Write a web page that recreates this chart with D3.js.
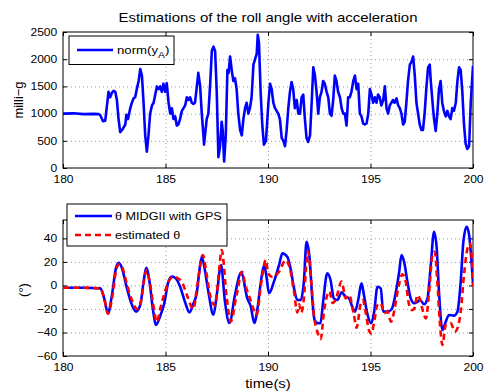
<!DOCTYPE html>
<html><head><meta charset="utf-8">
<script src="https://cdn.jsdelivr.net/npm/d3@7"></script>
<style>
html,body{margin:0;padding:0;background:#fff;}
text{font-family:"Liberation Sans",Arial,Helvetica,sans-serif;fill:#000;}
</style></head>
<body>
<svg id="c" width="484" height="392"></svg>
<script>
// ---------- DATA ----------
const title = "Estimations of the roll angle with acceleration";
const xTicks = [180, 185, 190, 195, 200];
const accelTicks = [0, 500, 1000, 1500, 2000, 2500];
const angleTicks = [-60, -40, -20, 0, 20, 40];

// norm(y_A) in milli-g
const accelTime = [
 180, 180.5, 181.0, 181.5, 181.74, 181.82, 181.95, 182.06, 182.22, 182.3, 182.38, 182.47, 182.55, 182.63, 182.71, 182.79, 182.92,
 183.04, 183.09, 183.17, 183.28, 183.36, 183.44, 183.52, 183.6, 183.69, 183.77, 183.85, 183.93, 184.01, 184.09, 184.17, 184.25,
 184.34, 184.42, 184.5, 184.58, 184.66, 184.74, 184.82, 184.9, 184.98, 185.06, 185.15, 185.23, 185.31, 185.39, 185.47, 185.55,
 185.63, 185.71, 185.8, 185.96, 186.04, 186.12, 186.2, 186.28, 186.36, 186.44, 186.53, 186.6, 186.69, 186.77, 186.85, 186.88,
 187.01, 187.09, 187.18, 187.26, 187.34, 187.42, 187.5, 187.58, 187.66, 187.74, 187.79, 187.86, 187.94, 188.02, 188.08, 188.15,
 188.23, 188.31, 188.39, 188.47, 188.55, 188.64, 188.72, 188.8, 188.88, 188.96, 189.04, 189.12, 189.2, 189.29, 189.37, 189.45,
 189.5, 189.56, 189.64, 189.72, 189.8, 189.9, 190.02, 190.1, 190.18, 190.26, 190.34, 190.42, 190.5, 190.58, 190.67, 190.75,
 190.83, 190.91, 190.99, 191.07, 191.15, 191.23, 191.31, 191.4, 191.48, 191.56, 191.64, 191.72, 191.8, 191.88, 191.96, 192.05,
 192.13, 192.21, 192.29, 192.37, 192.45, 192.53, 192.61, 192.69, 192.77, 192.86, 192.94, 193.02, 193.1, 193.18, 193.26, 193.34,
 193.42, 193.51, 193.59, 193.67, 193.75, 193.83, 193.91, 193.99, 194.07, 194.16, 194.24, 194.32, 194.4, 194.48, 194.56, 194.64,
 194.72, 194.81, 194.89, 194.97, 195.05, 195.13, 195.21, 195.29, 195.37, 195.45, 195.53, 195.62, 195.7, 195.78, 195.86, 195.94,
 196.02, 196.1, 196.18, 196.27, 196.35, 196.43, 196.51, 196.59, 196.67, 196.75, 196.83, 196.92, 197.0, 197.08, 197.16, 197.24,
 197.32, 197.4, 197.48, 197.56, 197.64, 197.73, 197.81, 197.89, 197.94, 198.05, 198.1, 198.18, 198.26, 198.34, 198.42, 198.5,
 198.58, 198.67, 198.75, 198.83, 198.91, 198.99, 199.07, 199.16, 199.24, 199.32, 199.4, 199.48, 199.56, 199.64, 199.72, 199.81,
 199.89, 200
];
const accelNorm = [
 1000, 1005, 990, 995, 990, 970, 860, 870, 1400, 1300, 1380, 1420, 1400, 1250, 900, 660, 720,
 800, 980, 900, 1100, 1200, 1280, 1300, 1450, 1600, 1820, 1700, 1200, 600, 300, 600, 1000,
 1150, 1200, 1350, 1500, 1450, 1500, 1400, 1550, 1400, 1560, 1200, 1000, 1100, 900, 950, 780,
 800, 900, 1050, 1150, 1300, 1250, 1300, 1200, 1180, 1200, 1500, 1750, 1500, 1000, 600, 430,
 900, 1000, 1550, 2150, 2230, 2150, 1400, 200, 400, 850, 700, 120, 600, 1800, 1750, 2050,
 1800, 1600, 1650, 1450, 1000, 700, 600, 900, 1100, 1200, 1000, 1100, 1300, 1900, 2000, 2100,
 2450, 2300, 1400, 800, 430, 500, 1200, 1550, 1450, 1200, 1100, 1050, 1000, 900, 550, 500,
 400, 700, 1100, 1400, 1580, 1450, 1100, 1250, 1000, 1000, 1300, 1350, 900, 550, 480, 600,
 1200, 1850, 1700, 1400, 1000, 1300, 1400, 1600, 1550, 1400, 1300, 1000, 960, 1250, 1700, 1600,
 1400, 1300, 1100, 1000, 1000, 780, 1300, 1300, 1400, 1600, 1700, 1450, 1550, 1000, 950, 820,
 800, 820, 1000, 1450, 1350, 1200, 1300, 1200, 1350, 1300, 1150, 1250, 1500, 1100, 1000, 1150,
 1200, 1250, 1200, 1280, 1150, 1100, 1000, 800, 850, 1200, 1600, 1900, 1950, 2050, 1700, 1200,
 1000, 800, 700, 700, 1000, 1500, 1850, 1900, 1600, 1100, 900, 680, 1000, 1450, 1600, 1200,
 1050, 950, 1050, 950, 900, 1100, 1050, 1200, 1600, 1850, 1800, 1400, 800, 450, 350, 400,
 1200, 1880
];

// theta from MIDGII with GPS (deg)
const gpsTime = [
 180, 181, 181.82, 182.01, 182.19, 182.39, 182.58, 182.71, 182.87, 183.08, 183.33, 183.56, 183.77, 183.93,
 184.06, 184.22, 184.38, 184.54, 184.74, 184.93, 185.14, 185.31, 185.5, 185.71, 185.95, 186.17, 186.35,
 186.53, 186.65, 186.77, 186.9, 187.09, 187.34, 187.5, 187.71, 187.9, 188.12, 188.39, 188.69, 188.99,
 189.16, 189.33, 189.5, 189.61, 189.82, 189.92, 190.05, 190.29, 190.54, 190.7, 190.94, 191.1, 191.27,
 191.43, 191.6, 191.75, 191.88, 192.03, 192.16, 192.27, 192.45, 192.56, 192.69, 192.89, 193.05, 193.21,
 193.38, 193.59, 193.79, 193.95, 194.11, 194.24, 194.4, 194.56, 194.68, 194.84, 195.03, 195.18, 195.34,
 195.5, 195.62, 195.83, 196.04, 196.24, 196.4, 196.51, 196.64, 196.8, 196.96, 197.13, 197.29, 197.42,
 197.61, 197.78, 197.94, 198.1, 198.23, 198.34, 198.51, 198.67, 198.83, 199.07, 199.24, 199.4, 199.53,
 199.69, 199.81, 199.94, 200
];
const thetaGPS = [
 -2, -2, -2.5, -11, -23.7, -8, 14.5, 19.3, 15, 0.3, -15, -22.3, -16.6, 3,
 15, 3, -19.5, -33.6, -26, -16, 3, 7.6, 6, -1, -14, -22.9, -16,
 -6, 12, 24.4, 15, -5.3, -25, -8, 17.3, -13.8, -32, -8, 11, -11,
 -18, -32, -18, -2.5, 16.7, 8, -6.7, 3.2, 17.3, 27.2, 24.4, 14.5, -2.5,
 -12.4, -12.4, 3.2, 37, 23, -11, -29.4, -32.2, -32, -13.8, 10.3, 4.6, -11,
 -12.4, -5.9, -9.6, -11, -18, -22.3, -12.4, 1.8, -8.2, -23.7, -32.2, -22.3, -1.1,
 -2.5, -22.3, -22.3, -20, -5.3, 11.6, 25.8, 20, 3.2, -11, -15.2, -14, -12.4,
 -16, -11, 17.3, 45.6, 31.5, -5.3, -37.9, -30.8, -25.1, -25.7, -22.3, 3.1, 37,
 49.9, 43, 17.3, 2
];

// estimated theta (deg)
const estTime = [
 180, 181, 181.82, 182.0, 182.2, 182.4, 182.58, 182.73, 182.9, 183.1, 183.35, 183.62, 183.8, 183.95,
 184.08, 184.22, 184.4, 184.58, 184.74, 184.93, 185.14, 185.38, 185.6, 185.8, 186.04, 186.36, 186.55,
 186.82, 187.0, 187.17, 187.42, 187.6, 187.74, 187.99, 188.18, 188.47, 188.74, 188.9, 189.12, 189.45,
 189.65, 189.9, 190.0, 190.21, 190.54, 190.86, 191.1, 191.27, 191.43, 191.52, 191.62, 191.75, 191.88,
 191.95, 192.11, 192.24, 192.4, 192.57, 192.73, 192.89, 193.0, 193.15, 193.3, 193.59, 193.79, 193.95,
 194.19, 194.32, 194.51, 194.62, 194.76, 194.92, 195.05, 195.18, 195.34, 195.5, 195.67, 195.83, 196.0,
 196.15, 196.32, 196.56, 196.72, 196.85, 197.02, 197.13, 197.29, 197.42, 197.56, 197.7, 197.86, 198.02,
 198.13, 198.26, 198.38, 198.51, 198.67, 198.91, 199.12, 199.24, 199.4, 199.56, 199.73, 199.84, 199.94, 200
];
const thetaEst = [
 -2, -2, -2.5, -10, -24, -10, 12, 18, 15, 2, -12, -20, -14, 4,
 13, 4, -16, -31, -20, -8, 3, 7.4, 6, 3, -8, -20, 0,
 25.8, 10, -8, -17, 10, 30, -11, -30.8, -8, 11.6, 0, -11, -25,
 0, 21.6, 10.3, 7.4, 11.6, 21.6, 12, -5.3, -23, -16, -23, -11, 20,
 29, 3, -25, -39, -45.5, -22.3, -8.2, -5, -15, -12, 3.2, -11, -8,
 -25, -36, -16.6, -12.4, -22.3, -37.9, -41, -30.8, -16.6, -15.2, -23.7, -22.3, -30.8,
 -22.3, -5.3, 9.4, 3.1, -13.8, -21, -20, -8.2, -12.4, -22, -28, -5.3, 25.8,
 28.6, 3.1, -30.8, -50.6, -33.6, -32, -39.3, -36.5, -22.3, 8.8, 31.5, 35.8, 23, -1
];

// ---------- DRAW ----------
const svg = d3.select("#c");
const L = 63, R = 473;
const top1 = 32, bot1 = 168;
const top2 = 220, bot2 = 356;
const SX = 1.15; // horizontal stretch of the reference's text

const x1 = d3.scaleLinear().domain([180, 200]).range([L, R]);
const y1 = d3.scaleLinear().domain([0, 2500]).range([bot1, top1]);
const y2 = d3.scaleLinear().domain([-60, 55.6]).range([bot2, top2]);

function stext(parent, x, y, size, anchor) {
  return parent.append("text").attr("transform", `translate(${x},${y}) scale(${SX},1)`)
    .attr("text-anchor", anchor || "start").style("font-size", size + "px");
}

stext(svg, (L + R) / 2, 21.5, 13, "middle").text(title);

function panel(y, yTicks, yTop, yBot, id) {
  const g = svg.append("g");
  svg.append("clipPath").attr("id", id).append("rect")
    .attr("x", L).attr("y", yTop).attr("width", R - L).attr("height", yBot - yTop);
  // grid
  const gx = g.append("g").attr("transform", `translate(0,${yBot})`)
    .call(d3.axisBottom(x1).tickValues(xTicks.slice(1, -1)).tickSize(-(yBot - yTop)).tickFormat(""));
  const gy = g.append("g").attr("transform", `translate(${L},0)`)
    .call(d3.axisLeft(y).tickValues(yTicks.filter(v => y(v) > yTop + 1 && y(v) < yBot - 1)).tickSize(-(R - L)).tickFormat(""));
  [gx, gy].forEach(a => {
    a.select(".domain").remove();
    a.selectAll("line").attr("stroke", "#9a9a9a").attr("stroke-width", 1).attr("stroke-dasharray", "1,3");
  });
  // axes with inward ticks
  const fmt = d3.format("d");
  const ax = g.append("g").attr("transform", `translate(0,${yBot})`)
    .call(d3.axisBottom(x1).tickValues(xTicks).tickSize(-4).tickPadding(8).tickFormat(fmt));
  const ay = g.append("g").attr("transform", `translate(${L},0)`)
    .call(d3.axisLeft(y).tickValues(yTicks).tickSize(-4).tickPadding(5).tickFormat(fmt));
  const at = g.append("g").attr("transform", `translate(0,${yTop})`)
    .call(d3.axisTop(x1).tickValues(xTicks).tickSize(-4).tickFormat(""));
  const ar = g.append("g").attr("transform", `translate(${R},0)`)
    .call(d3.axisRight(y).tickValues(yTicks).tickSize(-4).tickFormat(""));
  [ax, ay, at, ar].forEach(a => {
    a.select(".domain").remove();
    a.selectAll("line").attr("stroke", "#000");
    a.selectAll("text").style("font-size", "10.5px")
      .style("font-family", '"Liberation Sans",Arial,sans-serif')
      .attr("transform", `scale(${SX},1)`);
  });
  g.append("rect").attr("x", L).attr("y", yTop).attr("width", R - L).attr("height", yBot - yTop)
    .attr("fill", "none").attr("stroke", "#000").attr("stroke-width", 1);
  return g;
}

// top panel
panel(y1, accelTicks, top1, bot1, "clip1");
const accelData = accelTime.map((t, i) => [t, accelNorm[i]]);
svg.append("path").datum(accelData)
  .attr("clip-path", "url(#clip1)")
  .attr("fill", "none").attr("stroke", "#0000ff").attr("stroke-width", 2.6)
  .attr("stroke-linejoin", "round")
  .attr("d", d3.line().x(d => x1(d[0])).y(d => y1(d[1])));

// bottom panel
panel(y2, angleTicks, top2, bot2, "clip2");
const gpsData = gpsTime.map((t, i) => [t, thetaGPS[i]]);
const estData = estTime.map((t, i) => [t, thetaEst[i]]);
const line2 = d3.line().curve(d3.curveMonotoneX).x(d => x1(d[0])).y(d => y2(d[1]));
svg.append("path").datum(gpsData).attr("clip-path", "url(#clip2)")
  .attr("fill", "none").attr("stroke", "#0000ff").attr("stroke-width", 2.6).attr("d", line2);
svg.append("path").datum(estData).attr("clip-path", "url(#clip2)")
  .attr("fill", "none").attr("stroke", "#ff0000").attr("stroke-width", 2.6)
  .attr("stroke-dasharray", "6,4").attr("d", line2);

// axis labels
svg.append("text").attr("transform", `translate(18,${(top1 + bot1) / 2}) rotate(-90)`)
  .attr("text-anchor", "middle").attr("dominant-baseline", "central").style("font-size", "13px").text("milli\u2212g");
svg.append("text").attr("transform", `translate(23,${(top2 + bot2) / 2 + 2}) rotate(-90)`)
  .attr("text-anchor", "middle").attr("dominant-baseline", "central").style("font-size", "13px").text("(°)");
stext(svg, (L + R) / 2, 388, 13, "middle").text("time(s)");

// legend top
const lg1 = svg.append("g");
lg1.append("rect").attr("x", 69).attr("y", 36).attr("width", 105).attr("height", 28.5)
  .attr("fill", "#fff").attr("stroke", "#000");
lg1.append("line").attr("x1", 77).attr("x2", 113).attr("y1", 50).attr("y2", 50)
  .attr("stroke", "#0000ff").attr("stroke-width", 2.6);
const t1 = stext(lg1, 117, 53.5, 11.5, "start");
t1.append("tspan").text("norm(y");
t1.append("tspan").attr("dy", 4).style("font-size", "9px").text("A");
t1.append("tspan").attr("dy", -4).text(")");

// legend bottom
const lg2 = svg.append("g");
lg2.append("rect").attr("x", 67).attr("y", 204).attr("width", 160).attr("height", 42)
  .attr("fill", "#fff").attr("stroke", "#000");
lg2.append("line").attr("x1", 75).attr("x2", 112).attr("y1", 216).attr("y2", 216)
  .attr("stroke", "#0000ff").attr("stroke-width", 2.6);
stext(lg2, 115, 220, 11, "start").text("θ MIDGII with GPS");
lg2.append("line").attr("x1", 75).attr("x2", 112).attr("y1", 235).attr("y2", 235)
  .attr("stroke", "#ff0000").attr("stroke-width", 2.6).attr("stroke-dasharray", "6,4");
stext(lg2, 115, 239, 11, "start").text("estimated θ");
</script>
</body></html>
